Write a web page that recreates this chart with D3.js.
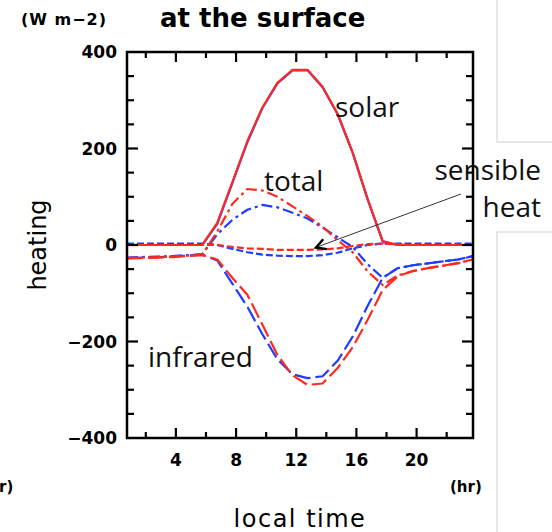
<!DOCTYPE html>
<html>
<head>
<meta charset="utf-8">
<script src="https://cdn.jsdelivr.net/npm/d3@7"></script>
<style>
  html, body { margin: 0; padding: 0; background: #fff; }
  svg { display: block; }
</style>
</head>
<body>
<svg id="chart" width="552" height="532"></svg>
<script>
// ---- data (W m-2) at local time ----
const hours = [0.75, 1.75, 2.75, 3.75, 4.75, 5.75, 6.75, 7.75, 8.75, 9.75, 10.75, 11.75,
               12.75, 13.75, 14.75, 15.75, 16.75, 17.75, 18.75, 19.75, 20.75, 21.75, 22.75, 23.75];

const solarRed    = [0, 0, 0, 0, 0, 0, 46, 130, 215, 285, 336, 363, 363, 328, 272, 192, 95, 8, 0, 0, 0, 0, 0, 0];
const solarBlue   = [0, 0, 0, 0, 0, 0, 44, 128, 213, 284, 335, 362, 362, 327, 271, 191, 94, 7, 0, 0, 0, 0, 0, 0];

const totalRed    = [-27, -26, -25, -24, -22, -20, 28, 85, 116, 113, 100, 80, 60, 38, 10, -15, -55, -83, -63, -54, -48, -43, -38, -30];
const totalBlue   = [-26, -25, -24, -23, -21, -19, 22, 52, 73, 83, 78, 67, 55, 36, 16, -4, -40, -68, -48, -42, -38, -34, -30, -23];

const sensibleRed  = [0, 0, 0, 0, 0, 0, 0, -4, -7, -8, -10, -10, -10, -9, -7, -2, 2, 3, 1, 0, 0, 0, 0, 0];
const sensibleBlue = [3, 3, 3, 3, 3, 3, 0, -8, -15, -20, -22, -23, -23, -21, -16, -7, 0, 3, 3, 3, 3, 3, 3, 3];

const infraredRed  = [-28, -27, -26, -25, -23, -21, -30, -68, -103, -165, -228, -270, -290, -287, -255, -212, -155, -93, -65, -54, -48, -43, -37, -30];
const infraredBlue = [-27, -26, -25, -24, -22, -20, -32, -80, -128, -185, -237, -268, -276, -272, -240, -190, -126, -68, -48, -42, -38, -34, -30, -23];

const xTicks = [4, 8, 12, 16, 20];
const yTicks = [-400, -200, 0, 200, 400];

// ---- layout ----
const svg = d3.select("#chart");
const L = 127, R = 473, T = 52, B = 438;
const x = d3.scaleLinear().domain([0.75, 23.75]).range([L, R]);
const y = d3.scaleLinear().domain([-400, 400]).range([B, T]);

const RED = "#ff2a1f", BLUE = "#1f3cff";

// background slide boxes
svg.append("rect").attr("x", 497).attr("y", -10).attr("width", 80).attr("height", 152)
  .attr("fill", "none").attr("stroke", "#cfcfcf").attr("stroke-width", 1);
svg.append("rect").attr("x", 497).attr("y", 232).attr("width", 80).attr("height", 320)
  .attr("fill", "none").attr("stroke", "#cfcfcf").attr("stroke-width", 1);

// clip
svg.append("clipPath").attr("id", "clip").append("rect")
  .attr("x", L).attr("y", T).attr("width", R - L).attr("height", B - T);

const line = d3.line().x((d, i) => x(hours[i])).y(d => y(d));
const g = svg.append("g").attr("clip-path", "url(#clip)");

const series = [
  { v: sensibleBlue, c: BLUE, dash: "7,3" },
  { v: infraredBlue, c: BLUE, dash: "16,5" },
  { v: totalBlue,    c: BLUE, dash: "11,4,3,4" },
  { v: solarBlue,    c: BLUE, dash: null },
  { v: sensibleRed,  c: RED,  dash: "7,3" },
  { v: infraredRed,  c: RED,  dash: "16,5" },
  { v: totalRed,     c: RED,  dash: "11,4,3,4" },
  { v: solarRed,     c: RED,  dash: null }
];
series.forEach(s => {
  g.append("path").datum(s.v).attr("d", line)
    .attr("fill", "none").attr("stroke", s.c).attr("stroke-width", 2.2)
    .attr("stroke-linejoin", "round")
    .attr("stroke-dasharray", s.dash);
});

// frame
svg.append("rect").attr("x", L).attr("y", T).attr("width", R - L).attr("height", B - T)
  .attr("fill", "none").attr("stroke", "#000").attr("stroke-width", 2.5);

// ticks (inward)
const axG = svg.append("g").attr("stroke", "#000").attr("stroke-width", 2.2);
d3.range(2, 24, 2).forEach(h => {
  const major = h % 4 === 0;
  const len = major ? 10 : 6;
  axG.append("line").attr("x1", x(h)).attr("x2", x(h)).attr("y1", B).attr("y2", B - len);
  axG.append("line").attr("x1", x(h)).attr("x2", x(h)).attr("y1", T).attr("y2", T + len);
});
d3.range(-350, 400, 50).forEach(v => {
  const major = v % 200 === 0;
  const len = major ? 11 : 7;
  axG.append("line").attr("x1", L).attr("x2", L + len).attr("y1", y(v)).attr("y2", y(v));
  axG.append("line").attr("x1", R).attr("x2", R - len).attr("y1", y(v)).attr("y2", y(v));
});

const tickFont = "'DejaVu Sans', sans-serif";
svg.append("g").selectAll("text").data(yTicks).join("text")
  .attr("x", 117).attr("y", d => y(d) + 6)
  .attr("text-anchor", "end").attr("font-family", tickFont).attr("font-weight", "bold")
  .attr("font-size", 17).text(d => d < 0 ? "\u2212" + Math.abs(d) : d);
svg.append("g").selectAll("text").data(xTicks).join("text")
  .attr("x", d => x(d)).attr("y", 466)
  .attr("text-anchor", "middle").attr("font-family", tickFont).attr("font-weight", "bold")
  .attr("font-size", 17).text(d => d);

// units & axis titles
svg.append("text").attr("x", 21).attr("y", 25).attr("font-family", tickFont)
  .attr("font-weight", "bold").attr("font-size", 16).attr("letter-spacing", 1)
  .text("(W m\u22122)");
svg.append("text").attr("x", 450).attr("y", 492).attr("font-family", tickFont)
  .attr("font-weight", "bold").attr("font-size", 15).text("(hr)");
svg.append("text").attr("x", -1).attr("y", 492).attr("font-family", tickFont)
  .attr("font-weight", "bold").attr("font-size", 15).text("r)");
svg.append("text").attr("x", 300).attr("y", 527).attr("text-anchor", "middle")
  .attr("font-family", tickFont).attr("font-size", 24).attr("letter-spacing", 1.5)
  .text("local time");
svg.append("text").attr("transform", "translate(46,245) rotate(-90)")
  .attr("text-anchor", "middle").attr("font-family", tickFont).attr("font-size", 24)
  .text("heating");

// title
svg.append("text").attr("x", 160).attr("y", 27).attr("font-family", tickFont)
  .attr("font-weight", "bold").attr("font-size", 26).text("at the surface");

// annotations
const annFont = "'Open Sans', sans-serif";
const ann = [
  { t: "solar", x: 335, y: 117, a: "start" },
  { t: "total", x: 264, y: 191, a: "start" },
  { t: "sensible", x: 541, y: 180, a: "end" },
  { t: "heat", x: 541, y: 217, a: "end" },
  { t: "infrared", x: 148, y: 367, a: "start" }
];
svg.append("g").selectAll("text").data(ann).join("text")
  .attr("x", d => d.x).attr("y", d => d.y).attr("text-anchor", d => d.a)
  .attr("font-family", annFont).attr("font-size", 28).attr("fill", "#111")
  .text(d => d.t);

// arrow
svg.append("line").attr("x1", 461).attr("y1", 194).attr("x2", 317).attr("y2", 247)
  .attr("stroke", "#333").attr("stroke-width", 1);
const ang = Math.atan2(194 - 247, 461 - 317);
const tipX = 316, tipY = 247.5, hl = 11;
svg.append("path")
  .attr("d", `M${tipX + hl * Math.cos(ang + 0.5)},${tipY + hl * Math.sin(ang + 0.5)} L${tipX},${tipY} L${tipX + hl * Math.cos(ang - 0.5)},${tipY + hl * Math.sin(ang - 0.5)}`)
  .attr("fill", "none").attr("stroke", "#000").attr("stroke-width", 2.5);
</script>
</body>
</html>
